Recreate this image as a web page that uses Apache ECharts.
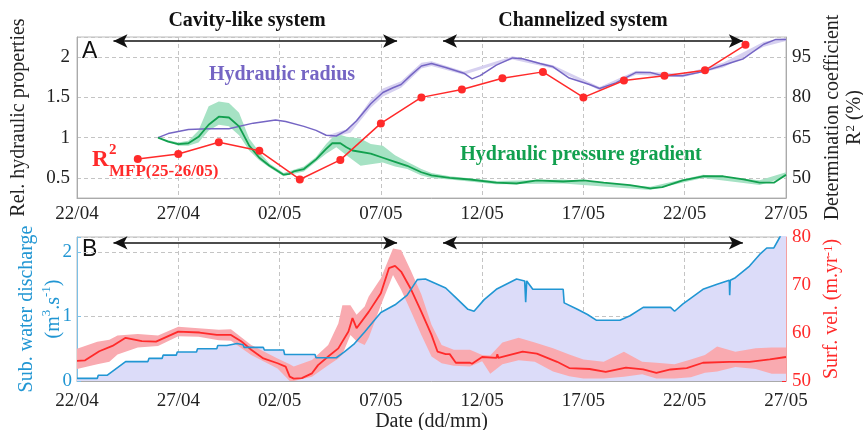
<!DOCTYPE html>
<html>
<head>
<meta charset="utf-8">
<script src="https://cdn.jsdelivr.net/npm/echarts@6/dist/echarts.min.js"></script>
<style>
  html, body { margin: 0; padding: 0; background: #fff; }
  #chart { width: 863px; height: 430px; }
</style>
</head>
<body>
<div id="chart"></div>
<script>
// x = days since 22/04
var dateLabels = ['22/04', '27/04', '02/05', '07/05', '12/05', '17/05', '22/05', '27/05'];

// panel A : relative hydraulic properties
var hydRadius = [[4.0,1.0],[4.5,1.05],[5.5,1.10],[6.5,1.11],[7.5,1.11],[8.7,1.18],[9.8,1.22],[10.3,1.20],[11.2,1.14],[11.8,1.09],[12.3,1.03],[12.8,1.02],[13.3,1.09],[13.8,1.21],[14.5,1.42],[15.1,1.56],[15.6,1.62],[16.0,1.66],[16.5,1.78],[17.0,1.89],[17.5,1.92],[18.2,1.87],[19.1,1.80],[19.5,1.73],[19.9,1.77],[20.7,1.90],[21.5,1.99],[22.0,1.98],[22.85,1.92],[23.5,1.88],[24.3,1.74],[25.3,1.66],[25.8,1.61],[26.6,1.68],[27.6,1.81],[28.3,1.81],[28.9,1.77],[29.9,1.77],[30.9,1.82],[31.9,1.90],[32.9,1.98],[33.9,2.16],[34.5,2.22],[35,2.22]];
var hydRadiusBand = [[12.5,1.0,1.04],[13.5,1.06,1.12],[14.5,1.37,1.47],[15.1,1.51,1.61],[16.0,1.62,1.70],[17.0,1.86,1.93],[17.5,1.89,1.95],[19.1,1.78,1.82],[21.5,1.97,2.01],[23.5,1.86,1.90],[25.8,1.59,1.63],[27.6,1.78,1.83],[29.9,1.75,1.79],[31.9,1.87,1.93],[33.9,2.13,2.19],[35,2.20,2.24]];
var pressGrad = [[4.0,1.0],[4.5,0.95],[5.0,0.92],[5.5,0.93],[6.0,1.01],[6.5,1.16],[7.0,1.26],[7.5,1.25],[8.0,1.14],[8.5,0.90],[9.0,0.75],[9.5,0.65],[10.2,0.54],[10.5,0.55],[10.7,0.58],[11.2,0.61],[11.8,0.73],[12.3,0.86],[12.6,0.93],[13.0,0.93],[13.3,0.88],[13.6,0.84],[14.5,0.80],[15.1,0.75],[15.7,0.70],[16.3,0.65],[17.0,0.57],[17.5,0.53],[18.4,0.50],[19.4,0.48],[20.7,0.44],[21.7,0.43],[22.7,0.47],[24.0,0.455],[25.0,0.47],[26.0,0.44],[27.3,0.41],[28.3,0.37],[28.9,0.385],[29.9,0.47],[30.9,0.52],[31.9,0.52],[32.9,0.48],[33.7,0.44],[34.4,0.44],[35,0.54]];
var pressGradBand = [[4.0,1.0,1.0],[5.0,0.90,0.94],[5.5,0.90,0.96],[6.0,0.94,1.09],[6.5,1.09,1.39],[7.0,1.16,1.45],[7.5,1.14,1.43],[8.0,1.03,1.31],[8.5,0.84,0.99],[9.0,0.72,0.82],[9.5,0.63,0.68],[10.2,0.52,0.56],[10.7,0.55,0.60],[11.2,0.58,0.64],[11.8,0.70,0.76],[12.3,0.80,0.92],[12.8,0.88,1.05],[13.3,0.78,1.01],[14.0,0.65,0.99],[14.5,0.67,0.92],[15.1,0.69,0.90],[15.7,0.64,0.78],[16.3,0.61,0.70],[17.0,0.53,0.61],[17.5,0.50,0.56],[18.4,0.48,0.52],[20.7,0.42,0.46],[24.0,0.43,0.48],[28.3,0.35,0.39],[30.9,0.50,0.54],[33.7,0.41,0.47],[35,0.51,0.57]];
var r2Days = [3, 5, 7, 9, 11, 13, 15, 17, 19, 21, 23, 25, 27, 29, 31, 33];
var r2Values = [57.0, 58.9, 63.3, 60.1, 49.4, 56.7, 70.3, 80.0, 82.9, 87.1, 89.5, 80.0, 86.3, 88.1, 90.1, 99.6];

// panel B : discharge and surface velocity
var discharge = [[0,0.04],[1.0,0.04],[1.05,0.09],[1.5,0.09],[2.4,0.30],[3.5,0.30],[3.55,0.35],[4.2,0.35],[4.25,0.40],[4.9,0.40],[4.95,0.45],[5.9,0.45],[5.95,0.50],[6.9,0.50],[6.95,0.55],[7.4,0.55],[7.45,0.58],[7.9,0.58],[7.95,0.56],[8.2,0.56],[8.25,0.52],[9.2,0.52],[9.25,0.48],[10.2,0.48],[10.25,0.41],[11.75,0.41],[11.8,0.36],[12.8,0.36],[13.2,0.45],[13.7,0.58],[14.2,0.76],[14.7,0.95],[15.0,1.06],[15.7,1.18],[16.3,1.33],[16.8,1.57],[17.2,1.58],[17.7,1.51],[18.2,1.44],[18.7,1.29],[19.3,1.11],[19.6,1.08],[20.1,1.26],[20.7,1.42],[21.7,1.58],[22.1,1.55],[22.15,1.22],[22.2,1.55],[22.5,1.42],[24.0,1.42],[24.05,1.21],[24.7,1.11],[25.2,1.03],[25.65,0.94],[26.8,0.94],[27.3,1.01],[27.95,1.14],[29.3,1.14],[29.5,1.08],[29.9,1.19],[30.9,1.42],[31.6,1.50],[32.2,1.56],[32.22,1.33],[32.25,1.56],[32.5,1.60],[33.2,1.78],[33.7,1.96],[34.05,2.06],[34.4,2.06],[34.7,2.23],[35,2.45]];
var surfVel = [[0,54.2],[0.4,54.3],[1.1,56.2],[1.75,57.3],[2.4,59.0],[3.2,58.3],[3.9,58.2],[5.0,60.3],[6.05,60.1],[6.9,59.6],[7.6,59.6],[8.1,58.3],[8.6,56.5],[9.2,54.7],[9.9,53.7],[10.3,53.0],[10.5,50.9],[10.7,50.5],[11.1,50.6],[11.6,51.6],[11.9,53.3],[12.4,55.1],[12.9,56.8],[13.4,60.3],[13.6,63.1],[13.8,61.0],[14.4,64.4],[15.0,68.3],[15.4,73.5],[15.7,74.0],[16.0,72.8],[16.5,69.0],[17.0,64.4],[17.5,59.6],[17.8,56.1],[18.2,55.6],[18.4,55.6],[18.7,53.8],[19.4,53.8],[19.5,53.6],[20.0,55.0],[20.7,54.8],[20.75,55.6],[20.8,54.8],[22.0,56.1],[22.7,55.7],[23.7,54.0],[24.3,52.7],[25.3,52.5],[26.1,51.9],[27.1,52.8],[27.95,52.4],[28.6,51.7],[29.3,52.4],[30.1,52.7],[30.9,53.8],[32.2,54.0],[33.2,54.0],[34.2,54.5],[35,55.0]];
var surfVelBand = [[0,52.5,56.7],[1.0,53.5,58.2],[1.6,54.0,58.6],[2.0,55.5,59.5],[3.0,57.0,59.8],[4.0,57.3,59.5],[5.0,59.3,61.3],[6.0,59.2,61.0],[7.0,58.5,60.7],[7.6,58.4,60.8],[8.6,55.4,57.5],[9.9,52.6,54.7],[10.5,50.0,53.5],[10.7,50.0,53.0],[11.6,50.9,54.4],[12.4,53.3,57.5],[12.9,54.7,62.0],[13.1,55.5,65.8],[13.5,59.6,65.8],[13.8,58.3,63.8],[14.2,57.5,65.5],[14.4,59.0,67.6],[15.0,65.8,71.4],[15.6,72.1,77.6],[16.0,69.0,77.3],[16.5,64.4,72.8],[17.0,59.6,68.0],[17.5,55.1,61.7],[18.0,53.7,57.5],[18.6,53.2,56.5],[19.4,53.0,56.5],[20.0,54.1,55.4],[20.4,51.5,55.3],[21.0,53.5,58.0],[21.8,54.3,59.0],[22.6,54.0,58.0],[23.5,52.0,56.8],[24.3,51.0,55.5],[25.0,50.5,54.5],[26.0,50.5,54.0],[27.0,50.9,56.1],[27.9,51.4,54.0],[28.6,50.5,53.8],[29.5,50.5,53.5],[30.3,50.8,54.5],[31.0,51.7,55.4],[31.6,52.0,57.2],[32.5,52.9,56.1],[33.5,52.5,56.8],[34.3,51.5,57.0],[35,51.5,57.0]];

// system periods (arrows), in days
var cavityPeriod = [1.8, 15.8];
var channelPeriod = [18.07, 32.87];

var SERIF = '"Liberation Serif", "DejaVu Serif", serif';
var BLUE = '#2196d3';
var RED = '#ff2a2a';

// shaded band [day, low, high] drawn as one polygon through the axes
function band(rows, xi, yi, color, z) {
  return {
    type: 'custom', xAxisIndex: xi, yAxisIndex: yi, silent: true, clip: true, z: z,
    data: rows, encode: { x: 0, y: [1, 2] },
    renderItem: function (params, api) {
      if (params.dataIndex !== 0) return null;
      var top = rows.map(function (r) { return api.coord([r[0], r[2]]); });
      var bot = rows.slice().reverse().map(function (r) { return api.coord([r[0], r[1]]); });
      return { type: 'polygon', shape: { points: top.concat(bot) }, style: { fill: color } };
    }
  };
}

function arrows(y) {
  return {
    silent: true, symbol: ['arrow', 'arrow'], symbolSize: [10, 14],
    label: { show: false },
    lineStyle: { color: '#111', width: 1.6, type: 'solid' },
    data: [
      [{ coord: [cavityPeriod[0], y] }, { coord: [cavityPeriod[1], y] }],
      [{ coord: [channelPeriod[0], y] }, { coord: [channelPeriod[1], y] }]
    ]
  };
}

var dashed = { show: true, lineStyle: { color: '#c4c4c4', type: [4, 3], width: 1 } };
var supStyle = function (c) { return { fontSize: 13, fontFamily: SERIF, color: c, verticalAlign: 'top', lineHeight: 13 }; };

function xAxis(grid, margin, extra) {
  return Object.assign({
    type: 'value', gridIndex: grid, min: 0, max: 35, interval: 5,
    axisLine: { lineStyle: { color: '#aaa' } }, axisTick: { show: false },
    axisLabel: { fontFamily: SERIF, fontSize: 19, color: '#222', margin: margin,
      formatter: function (v) { return dateLabels[Math.round(v / 5)]; } },
    splitLine: dashed
  }, extra || {});
}

var chart = echarts.init(document.getElementById('chart'));
chart.setOption({
  animation: false,
  backgroundColor: '#fff',
  grid: [
    { left: 77, right: 77, top: 37, height: 161, show: true, borderColor: '#bbb', borderWidth: 1, outerBoundsMode: 'none', containLabel: false },
    { left: 77, right: 77, top: 237, height: 144, show: true, borderColor: '#bbb', borderWidth: 1, outerBoundsMode: 'none', containLabel: false }
  ],
  xAxis: [
    xAxis(0, 7),
    xAxis(1, 11, { name: 'Date (dd/mm)', nameLocation: 'middle', nameGap: 28,
      nameTextStyle: { fontFamily: SERIF, fontSize: 20, color: '#222' } })
  ],
  yAxis: [
    { type: 'value', gridIndex: 0, position: 'left', min: 0.25, max: 2.25, splitNumber: 4,
      name: 'Rel. hydraulic properties', nameLocation: 'middle', nameRotate: 90, nameGap: 48,
      nameTextStyle: { fontFamily: SERIF, fontSize: 20, color: '#222' },
      axisLine: { show: true, lineStyle: { color: '#aaa' } }, axisTick: { show: false },
      axisLabel: { fontFamily: SERIF, fontSize: 19, color: '#222', margin: 7,
        formatter: function (v) { return Math.abs(v * 2 - Math.round(v * 2)) < 1e-6 ? String(v) : ''; } },
      splitLine: dashed },
    { type: 'value', gridIndex: 0, position: 'right', min: 42.5, max: 102.5, interval: 2.5,
      name: 'Determination coefficient\nR{sup|2} (%)', nameLocation: 'middle', nameRotate: 90, nameGap: 34,
      nameTextStyle: { fontFamily: SERIF, fontSize: 20, color: '#222', lineHeight: 22, rich: { sup: supStyle('#222') } },
      axisLine: { show: true, lineStyle: { color: '#aaa' } }, axisTick: { show: false },
      axisLabel: { fontFamily: SERIF, fontSize: 19, color: '#222', margin: 6,
        formatter: function (v) { var k = (v - 50) / 15; return Math.abs(k - Math.round(k)) < 1e-6 ? String(Math.round(v)) : ''; } },
      splitLine: { show: false } },
    { type: 'value', gridIndex: 1, position: 'left', min: 0, max: 2.23, interval: 1,
      name: 'Sub. water discharge\n(m{sup|3}.s{sup|-1})', nameLocation: 'middle', nameRotate: 90,
      nameGap: 10, nameMoveOverlap: false,
      nameTextStyle: { fontFamily: SERIF, fontSize: 20, color: BLUE, lineHeight: 27, rich: { sup: supStyle(BLUE) } },
      axisLine: { show: true, lineStyle: { color: '#7cc0e6' } },
      axisTick: { show: true, inside: true, length: 4, lineStyle: { color: '#7cc0e6' } },
      axisLabel: { fontFamily: SERIF, fontSize: 19, color: BLUE, margin: 5,
        formatter: function (v) { return Math.abs(v - Math.round(v)) < 1e-6 ? String(v) : ''; } },
      splitLine: dashed },
    { type: 'value', gridIndex: 1, position: 'right', min: 50, max: 80, interval: 10,
      name: 'Surf. vel. (m.yr{sup|-1})', nameLocation: 'middle', nameRotate: 90, nameGap: 34,
      nameTextStyle: { fontFamily: SERIF, fontSize: 20, color: RED, rich: { sup: supStyle(RED) } },
      axisLine: { show: true, lineStyle: { color: '#f4a0a0' } },
      axisTick: { show: true, inside: true, length: 4, lineStyle: { color: RED } },
      axisLabel: { fontFamily: SERIF, fontSize: 19, color: RED, margin: 6 },
      splitLine: { show: false } }
  ],
  series: [
    band(pressGradBand, 0, 0, '#a6e2c4', 3),
    band(hydRadiusBand, 0, 0, '#d6d0f0', 3),
    {
      name: 'Hydraulic radius', type: 'line', xAxisIndex: 0, yAxisIndex: 0, data: hydRadius, z: 5,
      showSymbol: false, lineStyle: { color: '#7565c4', width: 1.5 }, markLine: arrows(2.2)
    }, {
      name: 'Hydraulic pressure gradient', type: 'line', xAxisIndex: 0, yAxisIndex: 0, data: pressGrad, z: 5,
      showSymbol: false, lineStyle: { color: '#12a04f', width: 1.8 }
    }, {
      name: 'R2', type: 'line', xAxisIndex: 0, yAxisIndex: 1, z: 6,
      data: r2Days.map(function (d, i) { return [d, r2Values[i]]; }),
      symbol: 'circle', symbolSize: 8, itemStyle: { color: RED },
      lineStyle: { color: RED, width: 1.5 }
    }, {
      name: 'discharge-area', type: 'line', xAxisIndex: 1, yAxisIndex: 2, data: discharge, z: 1,
      showSymbol: false, silent: true, lineStyle: { opacity: 0 },
      areaStyle: { color: '#dcdcf9', opacity: 1 }
    },
    band(surfVelBand, 1, 3, '#f9aab0', 3),
    {
      name: 'Surf. vel.', type: 'line', xAxisIndex: 1, yAxisIndex: 3, data: surfVel, z: 5,
      showSymbol: false, lineStyle: { color: RED, width: 1.8 }
    }, {
      name: 'Discharge', type: 'line', xAxisIndex: 1, yAxisIndex: 2, data: discharge, z: 6,
      showSymbol: false, lineStyle: { color: BLUE, width: 1.6 }, markLine: arrows(2.14)
    }
  ],
  graphic: [
    { type: 'text', x: 247, y: 21, style: { text: 'Cavity-like system', font: 'bold 20px ' + SERIF, fill: '#111', align: 'center', verticalAlign: 'middle' } },
    { type: 'text', x: 583, y: 21, style: { text: 'Channelized system', font: 'bold 20px ' + SERIF, fill: '#111', align: 'center', verticalAlign: 'middle' } },
    { type: 'text', x: 282, y: 75, style: { text: 'Hydraulic radius', font: 'bold 20px ' + SERIF, fill: '#7565c4', align: 'center', verticalAlign: 'middle' } },
    { type: 'text', x: 581, y: 155, style: { text: 'Hydraulic pressure gradient', font: 'bold 20px ' + SERIF, fill: '#12a04f', align: 'center', verticalAlign: 'middle' } },
    { type: 'text', x: 92, y: 160, style: { text: 'R', font: 'bold 23px ' + SERIF, fill: RED, align: 'left', verticalAlign: 'middle' } },
    { type: 'text', x: 109, y: 150, style: { text: '2', font: 'bold 15px ' + SERIF, fill: RED, align: 'left', verticalAlign: 'middle' } },
    { type: 'text', x: 109, y: 172, style: { text: 'MFP(25-26/05)', font: 'bold 17px ' + SERIF, fill: RED, align: 'left', verticalAlign: 'middle' } },
    { type: 'text', x: 82, y: 52, style: { text: 'A', font: '23px "Liberation Sans", Arial, sans-serif', fill: '#111', align: 'left', verticalAlign: 'middle' } },
    { type: 'text', x: 82, y: 250, style: { text: 'B', font: '23px "Liberation Sans", Arial, sans-serif', fill: '#111', align: 'left', verticalAlign: 'middle' } }
  ]
});
</script>
</body>
</html>
